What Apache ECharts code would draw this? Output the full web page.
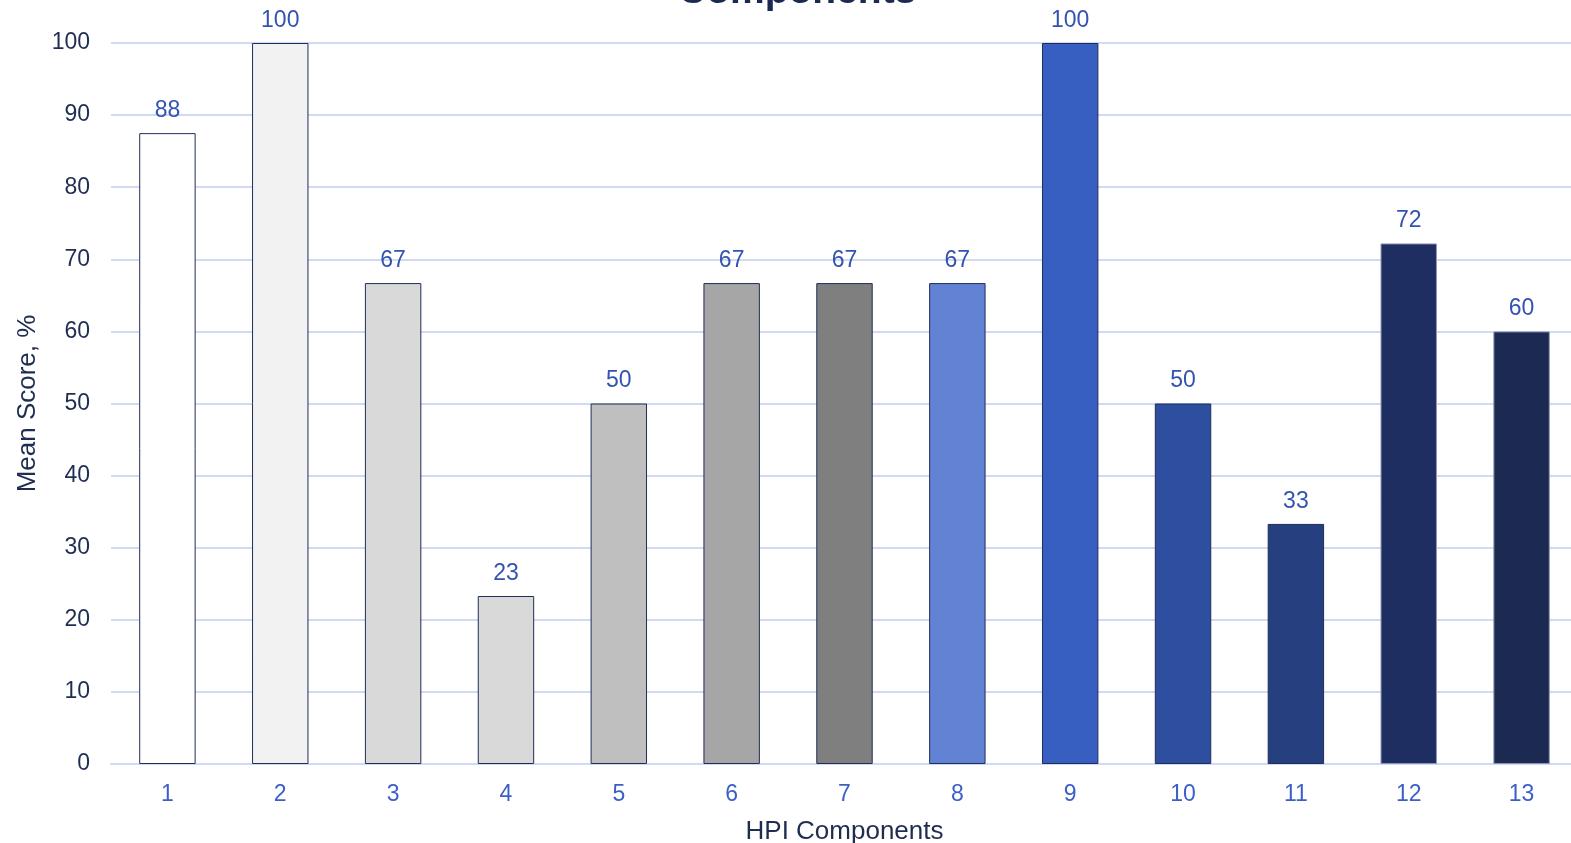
<!DOCTYPE html>
<html><head><meta charset="utf-8">
<script src="https://cdn.jsdelivr.net/npm/echarts@6/dist/echarts.min.js"></script>
<style>html,body{margin:0;padding:0;background:#fff}#c{width:1571px;height:843px}</style>
</head><body><div id="c"></div>
<script>
const categories = ['1','2','3','4','5','6','7','8','9','10','11','12','13'];
const values = [87.5, 100, 66.7, 23.3, 50, 66.7, 66.7, 66.7, 100, 50, 33.3, 72.2, 60];
const barColors = ['#ffffff','#f2f2f2','#d9d9d9','#d9d9d9','#bfbfbf','#a6a6a6','#7f7f7f','#6283d4','#375ec1','#2e4f9f','#253f7f','#1f2e60','#1c2950'];
const yTicks = [0,10,20,30,40,50,60,70,80,90,100];

const chart = echarts.init(document.getElementById('c'), null, {renderer:'canvas'});
const font = '"Liberation Sans", Arial, sans-serif';
chart.setOption({
  animation: false,
  title: {
    text: 'Components', left: 673, top: -32,
    textStyle: {fontFamily: font, fontSize: 39, fontWeight: 'bold', color: '#1c2a52', lineHeight: 39}
  },
  grid: {left: 111, width: 1467, top: 43, bottom: 79, containLabel: false, outerBoundsMode: 'none'},
  xAxis: {
    type: 'category', data: categories,
    name: 'HPI Components', nameLocation: 'middle', nameGap: 55,
    nameTextStyle: {fontFamily: font, fontSize: 26, color: '#1f2d50'},
    axisLine: {show: true, lineStyle: {color: '#d0daf2', width: 2}},
    axisTick: {show: false},
    axisLabel: {fontFamily: font, fontSize: 23, color: '#3b5fc8', margin: 19}
  },
  yAxis: {
    type: 'value', min: yTicks[0], max: yTicks[yTicks.length-1], interval: 10,
    name: 'Mean Score, %', nameLocation: 'middle', nameGap: 66, nameRotate: 90,
    nameTextStyle: {fontFamily: font, fontSize: 26, color: '#1f2d50'},
    axisLine: {show: false}, axisTick: {show: false},
    axisLabel: {fontFamily: font, fontSize: 23, color: '#1f2d50', margin: 21},
    splitLine: {lineStyle: {color: '#d0daf2', width: 2}}
  },
  series: [{
    type: 'bar', barWidth: '50%',
    data: values.map((v,i)=>({value: v, itemStyle: {color: barColors[i], borderColor: i >= 11 ? '#8d97b5' : '#1f2d5a'}})),
    itemStyle: {borderColor: '#1f2d5a', borderWidth: 1},
    label: {show: true, position: 'top', distance: 11, fontFamily: font, fontSize: 23, color: '#3453b0',
      formatter: p => Math.round(p.value)}
  }]
});
</script></body></html>
